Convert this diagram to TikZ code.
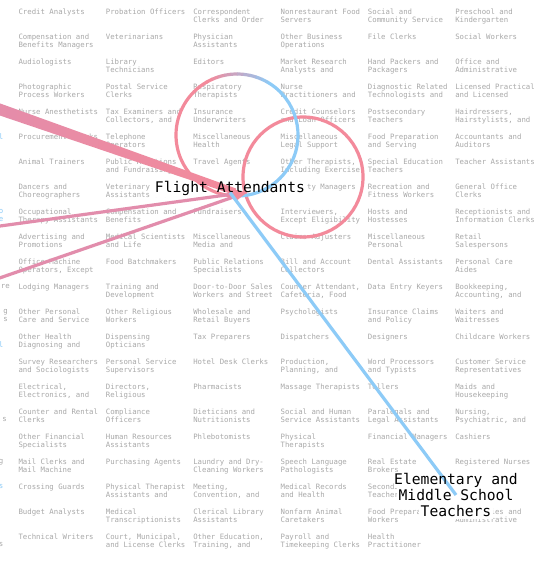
\documentclass[tikz,border=0pt]{standalone}
\usepackage{fontspec}
\setmonofont{DejaVu Sans Mono}
\usetikzlibrary{arrows.meta, calc}
\definecolor{jobGray}{HTML}{A9A9A9}
\definecolor{linkPink}{HTML}{F38A9B}
\definecolor{linkMauve}{HTML}{E28DAC}
\definecolor{linkBlue}{HTML}{8DCBF7}

\pgfdeclarelayer{grid}
\pgfdeclarelayer{links}
\pgfsetlayers{grid,links,main}

\tikzset{
  job/.style={anchor=north west, inner sep=0pt, align=left, text=jobGray,
    font=\ttfamily\fontsize{5.5}{6}\selectfont},
  stub/.style={job, anchor=north east, align=right},
  hilite/.style={inner sep=0pt, align=center, font=\ttfamily\fontsize{11}{12}\selectfont},
  inlink/.style={draw=linkMauve, line width=2.4pt},
  outlink/.style={draw=linkBlue, line width=2.4pt},
  looplink/.style={draw=linkPink, line width=2.4pt},
}

% one row of the grid: row, first column, texts
\newcommand\jobrow[3]{%
  \foreach \txt [count=\ci from #2] in {#3}
    \node[job] (job-#1-\ci) at ({18.3+87.35*\ci}, {9+25*#1}) {\txt};}

\begin{document}
\begin{tikzpicture}[x=0.75pt, y=-0.75pt]
  \useasboundingbox (0,0) rectangle (545,578);

  % highlighted occupations
  \node[hilite, anchor=base] (fa) at (230,192.5) {Flight Attendants};
  \node[hilite, anchor=north] (emt) at (456,473) {Elementary and\\Middle School\\Teachers};

  \begin{pgfonlayer}{grid}
  \fill[white] (0,0) rectangle (545,578);
  % occupation grid
  \jobrow{0}{0}{Credit Analysts, Probation Officers, Correspondent\\Clerks and Order, Nonrestaurant Food\\Servers, Social and\\Community Service, Preschool and\\Kindergarten}
  \jobrow{1}{0}{Compensation and\\Benefits Managers, Veterinarians, Physician\\Assistants, Other Business\\Operations, File Clerks, Social Workers}
  \jobrow{2}{0}{Audiologists, Library\\Technicians, Editors, Market Research\\Analysts and, Hand Packers and\\Packagers, Office and\\Administrative}
  \jobrow{3}{0}{Photographic\\Process Workers, Postal Service\\Clerks, Respiratory\\Therapists, Nurse\\Practitioners and, Diagnostic Related\\Technologists and, Licensed Practical\\and Licensed}
  \jobrow{4}{0}{Nurse Anesthetists, {Tax Examiners and\\Collectors, and}, Insurance\\Underwriters, Credit Counselors\\and Loan Officers, Postsecondary\\Teachers, {Hairdressers,\\Hairstylists, and}}
  \jobrow{5}{0}{Procurement Clerks, Telephone\\Operators, Miscellaneous\\Health, Miscellaneous\\Legal Support, Food Preparation\\and Serving, Accountants and\\Auditors}
  \jobrow{6}{0}{Animal Trainers, Public Relations\\and Fundraising, Travel Agents, {Other Therapists,\\Including Exercise}, Special Education\\Teachers, Teacher Assistants}
  \jobrow{7}{0}{Dancers and\\Choreographers, Veterinary\\Assistants and}
  \jobrow{7}{3}{Property Managers, Recreation and\\Fitness Workers, General Office\\Clerks}
  \jobrow{8}{0}{Occupational\\Therapy Assistants, Compensation and\\Benefits, Fundraisers, {Interviewers,\\Except Eligibility}, Hosts and\\Hostesses, Receptionists and\\Information Clerks}
  \jobrow{9}{0}{Advertising and\\Promotions, Medical Scientists\\and Life, Miscellaneous\\Media and, Claims Adjusters, Miscellaneous\\Personal, Retail\\Salespersons}
  \jobrow{10}{0}{{Office Machine\\Operators, Except}, Food Batchmakers, Public Relations\\Specialists, Bill and Account\\Collectors, Dental Assistants, Personal Care\\Aides}
  \jobrow{11}{0}{Lodging Managers, Training and\\Development, Door-to-Door Sales\\Workers and Street, {Counter Attendant,\\Cafeteria, Food}, Data Entry Keyers, {Bookkeeping,\\Accounting, and}}
  \jobrow{12}{0}{Other Personal\\Care and Service, Other Religious\\Workers, Wholesale and\\Retail Buyers, Psychologists, Insurance Claims\\and Policy, Waiters and\\Waitresses}
  \jobrow{13}{0}{Other Health\\Diagnosing and, Dispensing\\Opticians, Tax Preparers, Dispatchers, Designers, Childcare Workers}
  \jobrow{14}{0}{Survey Researchers\\and Sociologists, Personal Service\\Supervisors, Hotel Desk Clerks, {Production,\\Planning, and}, Word Processors\\and Typists, Customer Service\\Representatives}
  \jobrow{15}{0}{{Electrical,\\Electronics, and}, {Directors,\\Religious}, Pharmacists, Massage Therapists, Tellers, Maids and\\Housekeeping}
  \jobrow{16}{0}{Counter and Rental\\Clerks, Compliance\\Officers, Dieticians and\\Nutritionists, Social and Human\\Service Assistants, Paralegals and\\Legal Assistants, {Nursing,\\Psychiatric, and}}
  \jobrow{17}{0}{Other Financial\\Specialists, Human Resources\\Assistants, Phlebotomists, Physical\\Therapists, Financial Managers, Cashiers}
  \jobrow{18}{0}{Mail Clerks and\\Mail Machine, Purchasing Agents, Laundry and Dry-\\Cleaning Workers, Speech Language\\Pathologists, Real Estate\\Brokers, Registered Nurses}
  \jobrow{19}{0}{Crossing Guards, Physical Therapist\\Assistants and, {Meeting,\\Convention, and}, Medical Records\\and Health, Secondary School\\Teachers}
  \jobrow{20}{0}{Budget Analysts, Medical\\Transcriptionists, Clerical Library\\Assistants, Nonfarm Animal\\Caretakers, Food Preparation\\Workers, Secretaries and\\Administrative}
  \jobrow{21}{0}{Technical Writers, {Court, Municipal,\\and License Clerks}, {Other Education,\\Training, and}, Payroll and\\Timekeeping Clerks, Health\\Practitioner}

  % ends of the column cut off at the left edge
  \node[stub, text=linkBlue] (stub-5) at (3.5,134) {l};
  \node[stub, text=linkBlue] (stub-8) at (3.5,209) {o\\e};
  \node[stub] (stub-11) at (10,284) {re};
  \node[stub] (stub-12) at (8,309) {g\\s};
  \node[stub, text=linkBlue] (stub-13) at (3.5,342) {l};
  \node[stub] (stub-16) at (7,417) {s};
  \node[stub] (stub-18) at (3.5,459) {g};
  \node[stub, text=linkBlue] (stub-19) at (3.5,484) {s};
  \node[stub] (stub-21) at (3.5,542) {s};

  % clear the grid behind the highlighted labels
  \fill[white] ($(fa.south west)+(-1.5,1.5)$) rectangle ($(fa.north east)+(1.5,-1.5)$);
  \fill[white] ($(emt.north)+(-62,-1.5)$) rectangle ($(emt.north)+(62,15)$);
  \fill[white] ($(emt.north)+(-59,15)$) rectangle ($(emt.north)+(59,30.5)$);
  \fill[white] ($(emt.north)+(-37,30.5)$) rectangle ($(emt.north)+(37,45.5)$);
  \end{pgfonlayer}

  \begin{pgfonlayer}{links}
  % loops
  \coordinate (loopA) at (237,135);
  \coordinate (loopB) at (303,177);
  \draw[looplink] (loopB) circle[radius=60];
  \draw[looplink] (loopA) ++(90:61) arc[start angle=90, end angle=240.5, radius=61];
  \foreach \i [evaluate=\i as \p using int(10*\i)] in {0,...,9}
    \draw[line width=2.4pt, draw=linkBlue!\p!linkPink] (loopA) ++({240+6*\i}:61)
      arc[start angle={240+6*\i}, end angle={246.5+6*\i}, radius=61];
  \draw[outlink] (loopA) ++(300:61) arc[start angle=300, end angle=450, radius=61];

  % links into Flight Attendants
  \coordinate (fa-in) at ($(fa.base)+(18,-0.5)$);
  \coordinate (src-a) at (-40,95.5);
  \coordinate (src-b) at (-40,231.5);
  \coordinate (src-c) at (-40,291.7);
  \shade[left color=linkMauve, right color=linkPink]
    ($(src-a)+(0,-6.5)$) -- ($(fa-in)+(-12,-3.5)$) -- ($(fa-in)+(-12,3.5)$) -- ($(src-a)+(0,6.5)$) -- cycle;
  \draw[inlink, -{Triangle[length=10.5pt, width=6pt, color=linkPink]}] (src-b) -- (fa-in);
  \draw[inlink, -{Triangle[length=10.5pt, width=6pt, color=linkPink]}] (src-c) -- (fa-in);

  % link out of Flight Attendants
  \draw[outlink] (fa.base) -- (emt.center);
  \end{pgfonlayer}
\end{tikzpicture}
\end{document}
